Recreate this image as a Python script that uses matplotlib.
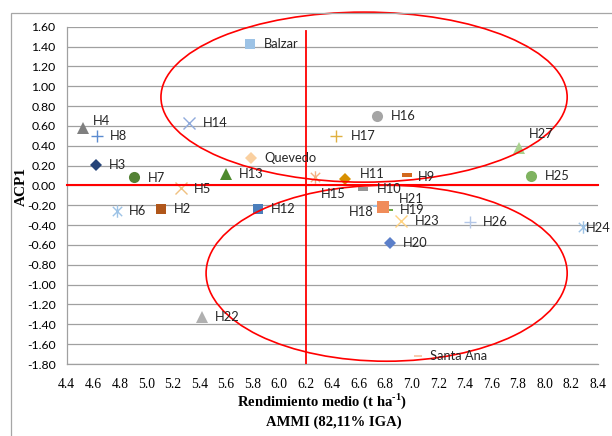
import matplotlib
matplotlib.use("Agg")
import matplotlib.pyplot as plt
from matplotlib.patches import Ellipse, Rectangle
from matplotlib.path import Path
import numpy as np

plt.rcParams['mathtext.fontset'] = 'custom'
plt.rcParams['mathtext.rm'] = 'Liberation Serif:bold'
plt.rcParams['mathtext.bf'] = 'Liberation Serif:bold'

# ---- data ----
names = ["H2", "H3", "H4", "H5", "H6", "H7", "H8", "H9", "H10", "H11", "H12", "H13",
         "H14", "H15", "H16", "H17", "H18", "H19", "H20", "H21", "H22", "H23", "H24",
         "H25", "H26", "H27", "Balzar", "Quevedo", "Santa Ana"]
rendimiento = [5.11, 4.62, 4.52, 5.26, 4.78, 4.91, 4.63, 6.96, 6.63, 6.50, 5.84, 5.60,
               5.32, 6.27, 6.74, 6.43, 6.735, 6.83, 6.835, 6.785, 5.42, 6.92, 8.29,
               7.90, 7.44, 7.81, 5.78, 5.79, 7.05]
acp1 = [-0.24, 0.21, 0.58, -0.03, -0.255, 0.09, 0.50, 0.11, -0.04, 0.065, -0.24, 0.12,
        0.63, 0.08, 0.70, 0.50, -0.205, -0.248, -0.584, -0.215, -1.33, -0.356, -0.416,
        0.095, -0.366, 0.38, 1.43, 0.28, -1.72]

mean_yield = 6.2
x_ticks = [4.4, 4.6, 4.8, 5.0, 5.2, 5.4, 5.6, 5.8, 6.0, 6.2, 6.4, 6.6, 6.8, 7.0,
           7.2, 7.4, 7.6, 7.8, 8.0, 8.2, 8.4]
y_ticks = [1.6, 1.4, 1.2, 1.0, 0.8, 0.6, 0.4, 0.2, 0.0, -0.2, -0.4, -0.6, -0.8,
           -1.0, -1.2, -1.4, -1.6, -1.8]

# ---- styles ----
dash = Path([(-1, -0.35), (1, -0.35), (1, 0.35), (-1, 0.35), (-1, -0.35)],
            [Path.MOVETO, Path.LINETO, Path.LINETO, Path.LINETO, Path.CLOSEPOLY])
aster = Path([(0, -1), (0, 1), (-0.75, -0.75), (0.75, 0.75), (-0.75, 0.75), (0.75, -0.75)],
             [Path.MOVETO, Path.LINETO, Path.MOVETO, Path.LINETO, Path.MOVETO, Path.LINETO])

styles = {
    "H2": ("s", "#B0561A", 7), "H3": ("D", "#264478", 6), "H4": ("^", "#7F7F7F", 8),
    "H5": ("x", "#F0C080", 8), "H6": (aster, "#9DC3E6", 9), "H7": ("o", "#548235", 8),
    "H8": ("+", "#5B8BD0", 9), "H9": (dash, "#D2691E", 7), "H10": (dash, "#959595", 7),
    "H11": ("D", "#D89000", 6), "H12": ("s", "#4A7EBB", 7), "H13": ("^", "#4E8A2E", 8),
    "H14": ("x", "#8FAADC", 8), "H15": (aster, "#F4B183", 9), "H16": ("o", "#A5A5A5", 8),
    "H17": ("+", "#E0B040", 9), "H18": (dash, "#9DC3E6", 6), "H19": (dash, "#70AD47", 6),
    "H20": ("D", "#5B7FC9", 6), "H21": ("s", "#F08C5A", 8), "H22": ("^", "#B0B0B0", 8),
    "H23": ("x", "#FFD27F", 9), "H24": (aster, "#9DC3E6", 9), "H25": ("o", "#7FB360", 8),
    "H26": ("+", "#B4C7E7", 9), "H27": ("^", "#A9D18E", 8), "Balzar": ("s", "#9DC3E6", 7),
    "Quevedo": ("D", "#FAD0A0", 6), "Santa Ana": (dash, "#F8CBAD", 6),
}
# label offsets in pixels (dx right, dy down) and alignment
label_pos = {
    "H2": (13, 0), "H3": (13, 0), "H4": (10, -7), "H5": (13, 1), "H6": (12, 0),
    "H7": (13, 1), "H8": (13, 0), "H9": (11, 2), "H10": (14, 0), "H11": (14, -5),
    "H12": (13, 0), "H13": (13, 0), "H14": (14, 0), "H15": (6, 17), "H16": (14, 0),
    "H17": (15, 0), "H18": (-3, 6), "H19": (11, 0), "H20": (13, 0), "H21": (16, -8),
    "H22": (13, 0), "H23": (14, 0), "H24": (3, 1), "H25": (14, 0), "H26": (13, 0),
    "H27": (9, -14), "Balzar": (14, 0), "Quevedo": (13, 0), "Santa Ana": (12, 0),
}
right_aligned = {"H18"}

W, H = 612, 436
fig = plt.figure(figsize=(W / 100, H / 100), dpi=100)
fig.patch.set_facecolor("white")

# outer chart frame
fig.patches.append(Rectangle((10.5 / W, -0.05), 1.2, 1 - 13.5 / H + 0.05,
                             transform=fig.transFigure, fill=False,
                             edgecolor="#A6A6A6", linewidth=0.9))

left, right, top, bottom = 66.7, 597.7, 26.7, 364.0
ax = fig.add_axes([left / W, 1 - bottom / H, (right - left) / W, (bottom - top) / H])
ax.set_xlim(4.4, 8.4)
ax.set_ylim(-1.8, 1.6)

for y in y_ticks:
    ax.axhline(y, color="#A0A0A0", linewidth=0.9, zorder=1)

for s in ["top", "right"]:
    ax.spines[s].set_visible(False)
for s in ["left", "bottom"]:
    ax.spines[s].set_color("#A0A0A0")
    ax.spines[s].set_linewidth(0.9)

ax.set_xticks(x_ticks)
ax.set_xticklabels([f"{v:.1f}" for v in x_ticks], family="Liberation Serif", fontsize=9.8)
ax.set_yticks(y_ticks)
ax.set_yticklabels([f"{v:.2f}" for v in y_ticks], family="Lato", fontsize=8.8)
ax.tick_params(axis="x", length=0, pad=10)
ax.tick_params(axis="y", length=0, pad=8)

for n, xv, yv in zip(names, rendimiento, acp1):
    m, c, ms = styles[n]
    if m in ("x", "+"):
        ax.plot(xv, yv, marker=m, color=c, markersize=ms, mew=1.0, linestyle="none", zorder=3)
    elif m is aster:
        ax.plot(xv, yv, marker=m, markerfacecolor="none", markeredgecolor=c,
                markersize=ms, mew=1.0, linestyle="none", zorder=3)
    else:
        ax.plot(xv, yv, marker=m, color=c, markersize=ms, mew=0, linestyle="none", zorder=3)
    dx, dy = label_pos[n]
    ax.annotate(n, (xv, yv), xytext=(dx, -dy), textcoords="offset pixels",
                ha="right" if n in right_aligned else "left", va="center",
                family="Lato", fontsize=9.3,
                color="#262626", zorder=5, annotation_clip=False)

# reference lines and ellipses
ax.plot([4.4, 8.4], [0, 0], color="#FF0000", linewidth=1.5, zorder=4, clip_on=False)
ax.plot([mean_yield, mean_yield], [1.56, -1.8], color="#FF0000", linewidth=1.3, zorder=4)
ax.add_patch(Ellipse((6.64, 0.89), 3.06, 1.714, fill=False, edgecolor="#FF0000",
                     linewidth=1.2, zorder=4, clip_on=False))
ax.add_patch(Ellipse((6.81, -0.885), 2.72, 1.774, fill=False, edgecolor="#FF0000",
                     linewidth=1.2, zorder=4, clip_on=False))

fig.text(322 / W, 1 - 401.5 / H, r"Rendimiento medio (t ha$^{\text{-1}}$)", ha="center", va="center",
         family="Liberation Serif", fontweight="bold", fontsize=10.5)
fig.text(334 / W, 1 - 422.5 / H, "AMMI (82,11% IGA)", ha="center", va="center",
         family="Liberation Serif", fontweight="bold", fontsize=10.5)
fig.text(21 / W, 1 - 187 / H, "ACP1", ha="center", va="center", rotation=90,
         family="Liberation Serif", fontweight="bold", fontsize=11)

fig.savefig("out.png", dpi=100)
